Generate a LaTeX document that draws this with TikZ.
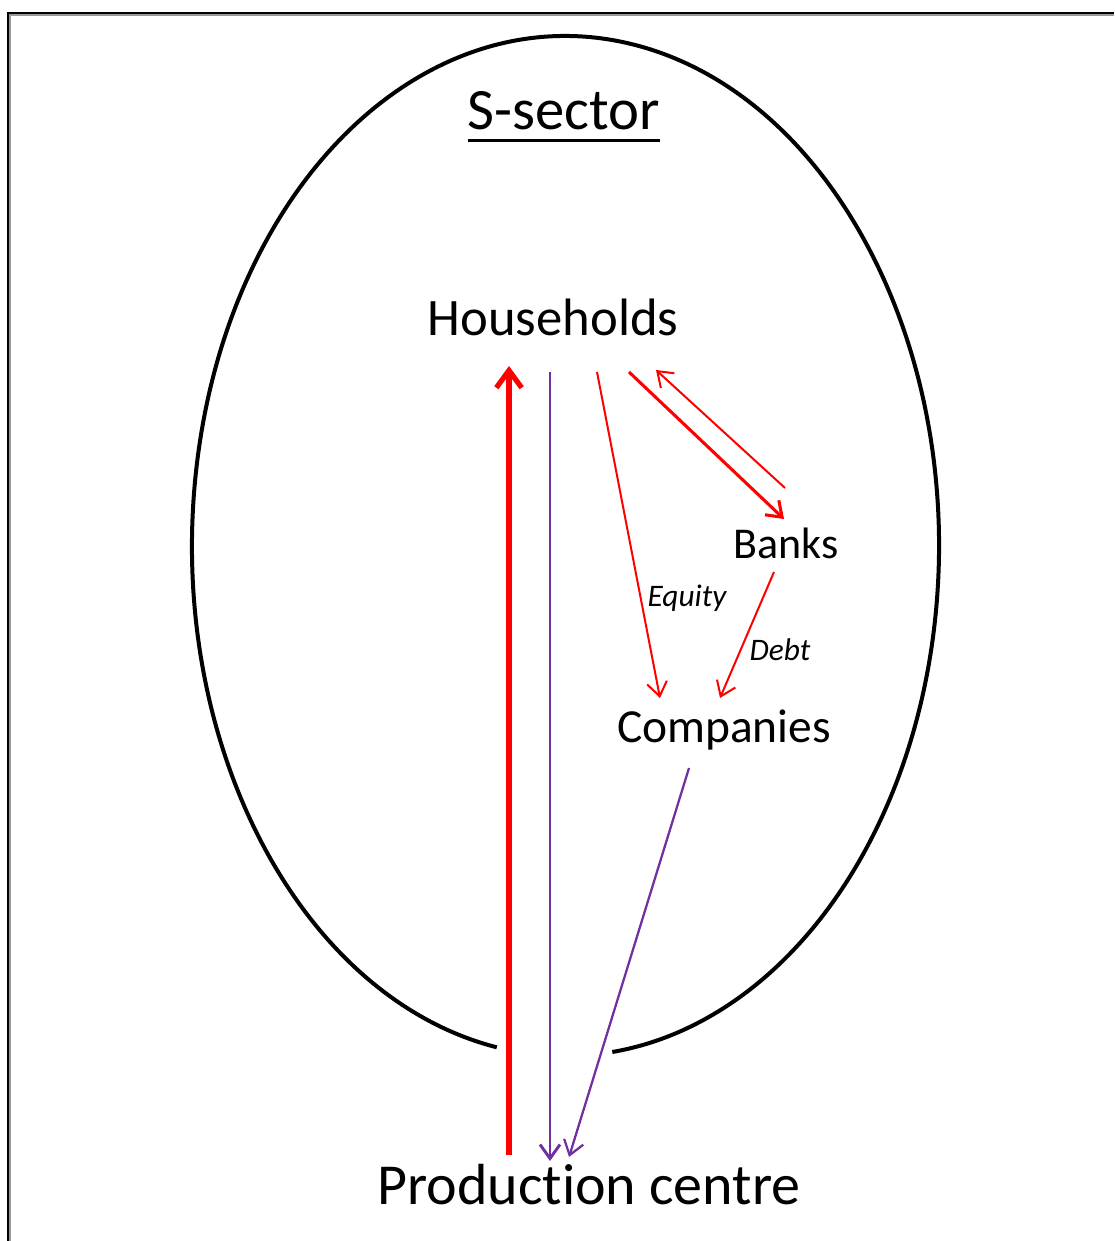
\documentclass[tikz,border=0pt]{standalone}
\usepackage{fontspec}
\setmainfont{Carlito}[Ligatures={NoCommon}]
\usetikzlibrary{arrows.meta}
\definecolor{redline}{HTML}{FF0000}
\definecolor{purpleline}{HTML}{7030A0}
\tikzset{
  lbl/.style={anchor=base, inner sep=0pt, text=black},
  barb/.style={-{Straight Barb[length=10.5pt, width=15pt]}},
  redthin/.style={draw=redline, line width=1.5pt, barb},
  purp/.style={draw=purpleline, line width=2.2pt, barb},
}
\begin{document}
\begin{tikzpicture}[x=0.75pt, y=-0.75pt]
\useasboundingbox (0,0) rectangle (1114,1241);
% frame (top and left edges visible)
\draw[black!40, line width=1.1pt] (9,14.8) -- (1114,14.8);
\draw[black!40, line width=1.1pt] (9.8,14) -- (9.8,1241);
\draw[black, line width=1.5pt] (7,13) -- (1114,13);
\draw[black, line width=1.5pt] (8,12) -- (8,1241);

% S-sector boundary (ellipse with gap at bottom)
\draw[black, line width=3pt] (496.8,1047.3) arc[start angle=100.6, end angle=442.8, x radius=373.5, y radius=510];

% labels
\node[lbl, font=\fontsize{44}{48}\selectfont] (ss) at (564,130) {S-sector};
\draw[black, line width=2.2pt] ([yshift=-8pt]ss.base west) -- ([yshift=-8pt]ss.base east);
\node[lbl, font=\fontsize{39.5}{44}\selectfont] (hh) at (553,335) {Households};
\node[lbl, font=\fontsize{33}{38}\selectfont] (bk) at (786,558) {Banks};
\node[lbl, font=\fontsize{35.6}{40}\selectfont] (co) at (724,742) {Companies};
\node[lbl, font=\fontsize{43.5}{48}\selectfont] (pc) at (589,1204) {Production centre};
\node[lbl, font=\itshape\fontsize{23.5}{26}\selectfont] (eq) at (687,606) {Equity};
\node[lbl, font=\itshape\fontsize{23.5}{26}\selectfont] (db) at (780,660) {Debt};

% connector end points
\coordinate (pcUp) at (509,1155);
\coordinate (hhIn) at (509,366);
\coordinate (hhOutP) at (550,372);
\coordinate (pcInP) at (550,1161);
\coordinate (coOut) at (689,768);
\coordinate (pcInC) at (569,1157);
\coordinate (hhEq) at (597,372);
\coordinate (coEq) at (660,698);
\coordinate (hhBk) at (629,372);
\coordinate (bkIn) at (784,519);
\coordinate (bkOut) at (785,488);
\coordinate (hhRet) at (656,370);
\coordinate (bkDb) at (774,572);
\coordinate (coDb) at (720,698);

% connectors
\draw[draw=redline, line width=3.9pt, -{Straight Barb[length=13pt, width=19pt]}] (pcUp) -- (hhIn);
\draw[purp] (hhOutP) -- (pcInP);
\draw[purp, line width=1.7pt] (coOut) -- (pcInC);
\draw[redthin] (hhEq) -- (coEq);
\draw[redthin, line width=2.3pt] (hhBk) -- (bkIn);
\draw[redthin] (bkOut) -- (hhRet);
\draw[redthin] (bkDb) -- (coDb);
\end{tikzpicture}
\end{document}
